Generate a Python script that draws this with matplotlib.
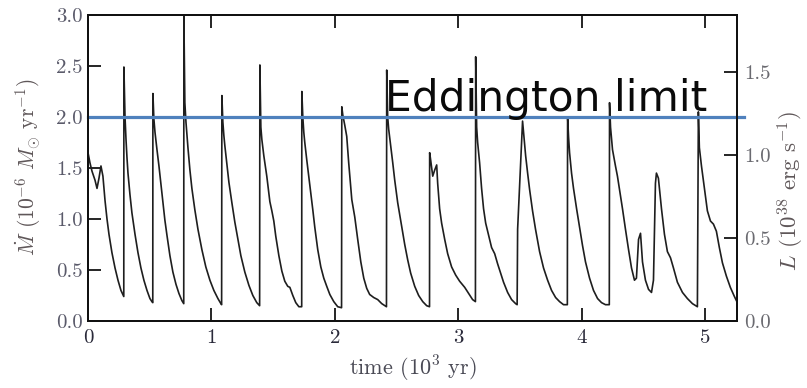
import matplotlib
matplotlib.use("Agg")
import matplotlib.pyplot as plt

plt.rcParams['mathtext.fontset'] = 'cm'

# ---- data (time in 10^3 yr, Mdot in 1e-6 Msun/yr) ----
time_kyr = [
    # initial decline
    0.000, 0.016, 0.032, 0.057, 0.073, 0.089, 0.105, 0.121, 0.138, 0.154, 0.170, 0.194, 0.219, 0.243, 0.267, 0.283, 0.290,
    # burst 1
    0.291, 0.300, 0.308, 0.316, 0.324, 0.340, 0.356, 0.381, 0.405, 0.429, 0.453, 0.478, 0.502, 0.518, 0.525,
    # burst 2
    0.526, 0.534, 0.543, 0.559, 0.575, 0.591, 0.607, 0.623, 0.640, 0.664, 0.688, 0.713, 0.737, 0.761, 0.776,
    # burst 3
    0.777, 0.785, 0.794, 0.810, 0.826, 0.842, 0.866, 0.891, 0.923, 0.955, 0.988, 1.020, 1.053, 1.077, 1.083,
    # burst 4
    1.085, 1.093, 1.101, 1.109, 1.126, 1.142, 1.166, 1.190, 1.215, 1.239, 1.271, 1.304, 1.336, 1.368, 1.391,
    # burst 5
    1.393, 1.401, 1.409, 1.425, 1.449, 1.474, 1.490, 1.506, 1.522, 1.547, 1.571, 1.595, 1.619, 1.636, 1.660, 1.684, 1.709, 1.732,
    # burst 6
    1.733, 1.741, 1.749, 1.757, 1.773, 1.789, 1.806, 1.822, 1.838, 1.862, 1.887, 1.911, 1.935, 1.960, 1.992, 2.024, 2.055,
    # burst 7
    2.057, 2.065, 2.081, 2.097, 2.113, 2.138, 2.162, 2.186, 2.211, 2.235, 2.259, 2.283, 2.316, 2.348, 2.381, 2.419,
    # burst 8
    2.421, 2.429, 2.437, 2.453, 2.470, 2.486, 2.510, 2.543, 2.567, 2.591, 2.615, 2.648, 2.680, 2.713, 2.745, 2.768,
    # burst 9 (double peak)
    2.769, 2.777, 2.794, 2.810, 2.826, 2.834, 2.850, 2.866, 2.891, 2.915, 2.947, 2.980, 3.012, 3.053, 3.085, 3.117, 3.140,
    # burst 10
    3.142, 3.150, 3.158, 3.174, 3.190, 3.206, 3.223, 3.247, 3.271, 3.296, 3.320, 3.344, 3.368, 3.401, 3.433, 3.466, 3.478,
    # burst 11
    3.482, 3.522, 3.530, 3.547, 3.563, 3.579, 3.603, 3.627, 3.660, 3.692, 3.725, 3.757, 3.790, 3.822, 3.854, 3.885,
    # burst 12
    3.887, 3.895, 3.903, 3.919, 3.935, 3.960, 3.984, 4.008, 4.032, 4.065, 4.097, 4.130, 4.162, 4.194, 4.225,
    # burst 13 with two small flares
    4.227, 4.235, 4.251, 4.275, 4.291, 4.308, 4.332, 4.356, 4.381, 4.405, 4.429, 4.445, 4.462, 4.478, 4.494, 4.518,
    4.543, 4.567, 4.583, 4.599, 4.607, 4.623, 4.648, 4.672, 4.696, 4.721, 4.745, 4.777, 4.818, 4.858, 4.899, 4.939,
    # burst 14
    4.947, 4.955, 4.972, 4.996, 5.020, 5.045, 5.069, 5.093, 5.117, 5.142, 5.174, 5.206, 5.239, 5.259,
]
mdot = [
    1.65, 1.55, 1.47, 1.38, 1.30, 1.40, 1.52, 1.42, 1.18, 1.00, 0.85, 0.67, 0.52, 0.40, 0.30, 0.26, 0.24,
    2.49, 2.00, 1.78, 1.60, 1.45, 1.24, 1.06, 0.85, 0.67, 0.52, 0.40, 0.30, 0.22, 0.19, 0.18,
    2.23, 1.98, 1.85, 1.68, 1.52, 1.34, 1.16, 0.99, 0.84, 0.64, 0.48, 0.36, 0.27, 0.20, 0.17,
    2.99, 2.14, 1.95, 1.70, 1.48, 1.30, 1.09, 0.90, 0.70, 0.53, 0.40, 0.30, 0.22, 0.17, 0.16,
    2.21, 1.95, 1.82, 1.72, 1.53, 1.36, 1.16, 0.97, 0.80, 0.64, 0.48, 0.35, 0.25, 0.18, 0.15,
    2.51, 1.90, 1.78, 1.62, 1.42, 1.17, 1.08, 0.98, 0.83, 0.64, 0.49, 0.39, 0.34, 0.33, 0.25, 0.18, 0.14, 0.14,
    2.25, 2.00, 1.85, 1.75, 1.58, 1.42, 1.25, 1.09, 0.92, 0.70, 0.53, 0.42, 0.34, 0.26, 0.19, 0.14, 0.13,
    2.10, 2.02, 1.92, 1.81, 1.55, 1.19, 1.02, 0.80, 0.58, 0.42, 0.32, 0.26, 0.23, 0.21, 0.17, 0.14,
    2.46, 2.00, 1.88, 1.72, 1.55, 1.38, 1.16, 0.92, 0.75, 0.60, 0.47, 0.34, 0.25, 0.19, 0.15, 0.14,
    1.65, 1.58, 1.42, 1.48, 1.53, 1.35, 1.10, 0.96, 0.80, 0.66, 0.53, 0.45, 0.39, 0.33, 0.27, 0.21, 0.19,
    2.59, 1.90, 1.75, 1.55, 1.30, 1.10, 0.96, 0.84, 0.72, 0.66, 0.56, 0.47, 0.38, 0.28, 0.21, 0.17, 0.16,
    0.90, 1.96, 1.85, 1.62, 1.45, 1.29, 1.08, 0.90, 0.68, 0.52, 0.40, 0.30, 0.23, 0.19, 0.16, 0.16,
    2.00, 1.80, 1.65, 1.45, 1.30, 1.10, 0.92, 0.74, 0.58, 0.42, 0.30, 0.22, 0.18, 0.16, 0.16,
    2.14, 1.90, 1.68, 1.52, 1.42, 1.29, 1.10, 0.90, 0.70, 0.52, 0.40, 0.42, 0.80, 0.86, 0.58, 0.40,
    0.31, 0.28, 0.40, 1.35, 1.45, 1.40, 1.10, 0.85, 0.68, 0.62, 0.52, 0.38, 0.28, 0.22, 0.17, 0.14,
    2.05, 1.70, 1.52, 1.30, 1.08, 0.98, 0.95, 0.88, 0.72, 0.57, 0.44, 0.33, 0.24, 0.19,
]

eddington_mdot = 2.0
eddington_label = "Eddington limit"

x_ticks = [0, 1, 2, 3, 4, 5]
mdot_ticks = [0.0, 0.5, 1.0, 1.5, 2.0, 2.5, 3.0]
lum_ticks = [0.0, 0.5, 1.0, 1.5]
x_max = 5.26
mdot_max = 3.0
lum_max = 1.843

# ---- figure ----
W, H = 807, 388
fig = plt.figure(figsize=(W / 100, H / 100), dpi=100)
L, R, T, B = 88, 737, 15, 321
ax = fig.add_axes([L / W, 1 - B / H, (R - L) / W, (B - T) / H])

ax.plot(time_kyr, mdot, color='#1e1e1e', lw=1.2, solid_joinstyle='round')
ax.set_xlim(0, x_max)
ax.set_ylim(0, mdot_max)

# Eddington line extends slightly past the frame
ax.plot([0, 5.32], [eddington_mdot, eddington_mdot], color='#4f81bd', lw=2.3,
        clip_on=False, zorder=5)
ax.text(2.405, 2.055, eddington_label, fontsize=30.5, family='DejaVu Sans',
        color='#0a0a0a', ha='left', va='baseline', zorder=6)

ax2 = ax.twinx()
ax2.set_ylim(0, lum_max)

tickfont = dict(family='cmr10', size=15)
ax.set_xticks(x_ticks)
ax.set_xticklabels([str(v) for v in x_ticks], color='#2a2a3a', fontdict=tickfont)
ax.set_yticks(mdot_ticks)
ax.set_yticklabels(['%.1f' % v for v in mdot_ticks], color='#5a5a6a', fontdict=tickfont)
ax2.set_yticks(lum_ticks)
ax2.set_yticklabels(['%.1f' % v for v in lum_ticks], color='#6a6a70', fontdict=tickfont)

ax.tick_params(axis='x', direction='in', length=9.5, width=1.2, top=True, bottom=True, pad=6)
ax.tick_params(axis='y', direction='in', length=9.5, width=1.2, left=True, right=False, pad=4)
ax2.tick_params(axis='y', direction='in', length=9.5, width=1.2, left=False, right=True, pad=5)
for a in (ax, ax2):
    for s in a.spines.values():
        s.set_linewidth(1.4)
        s.set_color('#111111')

labcol = '#5e5658'
fig.text(28 / W, 1 - 167 / H, r'$\dot{M}$ ($10^{-6}$ $M_{\odot}$ yr$^{-1}$)', rotation=90,
         ha='center', va='center', fontsize=15.5, family='cmr10', color=labcol)
fig.text(791 / W, 1 - 191 / H, r'$L$ ($10^{38}$ erg s$^{-1}$)', rotation=90,
         ha='center', va='center', fontsize=16.5, family='cmr10', color=labcol)
fig.text(413 / W, 1 - 369 / H, r'time ($10^3$ yr)', ha='center', va='center',
         fontsize=16, family='cmr10', color='#4a4a55')

fig.savefig('out.png', dpi=100)
